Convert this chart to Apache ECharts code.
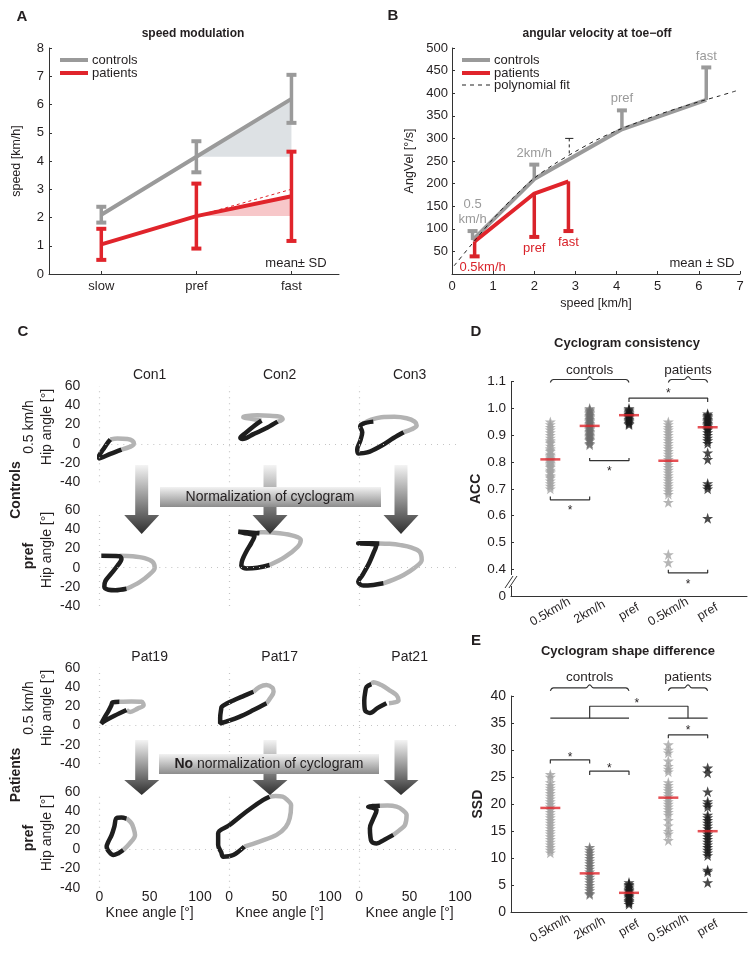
<!DOCTYPE html>
<html>
<head>
<meta charset="utf-8">
<script src="https://cdn.jsdelivr.net/npm/echarts@6/dist/echarts.min.js"></script>
<style>
html, body { margin: 0; padding: 0; background: #fff; }
#main { width: 756px; height: 953px; }
</style>
</head>
<body>
<div id="main"></div>
<script>
// ---------- panel A: speed modulation ----------
const speedCats = ['slow', 'pref', 'fast'];
const speedPos = [1, 2, 3];
const ctrlSpeedMean = [2.1, 4.15, 6.2];
const ctrlSpeedSD = [0.28, 0.55, 0.85];
const patSpeedMean = [1.05, 2.05, 2.75];
const patSpeedSD = [0.55, 1.15, 1.58];
const patSpeedTrend = [[2, 2.05], [3, 3.0]];

// ---------- panel B: angular velocity at toe-off ----------
const ctrlAngSpeed = [0.5, 2.0, 4.13, 6.18];
const ctrlAngVel = [75, 210, 320, 385];
const ctrlAngSD = [20, 32, 42, 72];
const ctrlAngLabels = ['0.5\nkm/h', '2km/h', 'pref', 'fast'];
const patAngSpeed = [0.55, 2.0, 2.83];
const patAngVel = [72, 178, 205];
const patAngSD = [33, 96, 110];
const patAngLabels = ['0.5km/h', 'pref', 'fast'];
const fitSpeed = [0.05, 0.5, 1, 1.5, 2, 2.5, 3, 3.5, 4, 4.5, 5, 5.5, 6, 6.5, 6.9];
const fitAngVel = [18, 68, 122, 170, 212, 244, 271, 296, 317, 335, 352, 367, 381, 394, 405];
const fitMark = [2.85, 300, 262];

// ---------- panel C: cyclograms [knee, hip] ----------
const con1SlowBlack = [[22,-6],[11,-10.5],[2,-14.5],[-1,-15.5],[0,-12],[5,-4],[9,2],[11,4.5]];
const con1SlowGray  = [[11,4.5],[18,5.5],[28,5],[33,3],[34.5,0],[31,-3],[22,-6]];
const con2SlowBlack = [[32,24],[24,18],[16,11],[11,6],[13,5],[24,10],[38,17],[48,23]];
const con2SlowGray  = [[48,23],[53,25.5],[51,28],[40,29],[28,29.5],[16,28.5],[14,27.5],[22,26],[32,24]];
const con3SlowBlack = [[14,23],[4,21],[1,18],[3,12],[1,3],[-2,-6],[-1,-10],[8,-9],[22,-2],[34,6],[44,12]];
const con3SlowGray  = [[44,12],[52,15],[57,19],[55,23],[47,26.5],[35,28],[22,27.5],[12,25],[4,21]];
const con1PrefBlack = [[2,12.5],[20,12],[22,9],[18,2],[12,-6],[6,-14],[5,-20],[9,-23],[16,-23.5],[27,-22]];
const con1PrefGray  = [[27,-22],[40,-15],[50,-7],[55,0],[53,6],[45,10],[33,12],[20,12.5]];
const con2PrefBlack = [[30,36],[18,37],[9,37.5],[14,36.5],[25,33],[22,26],[17,17],[13,8],[12,2],[17,-0.7],[28,0],[40,2.8]];
const con2PrefGray  = [[40,2.8],[55,11],[68,22],[71,29],[65,33],[50,36],[34,37],[28,37]];
const con3PrefBlack = [[20,25.4],[8,25.5],[-1,25.4],[10,25],[17,23.6],[14,15],[9,3],[3,-8],[-1,-14.6],[4,-18.7],[14,-18],[24,-16.3]];
const con3PrefGray  = [[24,-16.3],[34,-12.5],[44,-7.6],[55,0],[62,8],[60,16.7],[52,21],[41,23.6],[30,25],[20,25.4]];
const pat19SlowBlack = [[27,16],[15,10],[6,5],[2,2],[5,8],[9,15],[12,21],[13,24],[20,24.6]];
const pat19SlowGray  = [[20,24.6],[32,25],[42,24.6],[44,21],[38,17.5],[30.5,14],[27,16]];
const pat17SlowBlack = [[37,23],[24,16],[10,9],[-3,4],[-9,2],[-9,8],[-8,17],[-7.5,19.4],[4,26],[15,31],[24,35]];
const pat17SlowGray  = [[24,35],[30,40],[37,42],[43,39],[44,35],[40.4,28],[37,23]];
const pat21SlowBlack = [[27,23],[18,18],[10.6,13],[5.7,16],[5,26],[6,35],[7.3,40],[12,43]];
const pat21SlowGray  = [[12,43],[14,45],[22,42],[31,36],[37,31.5],[39,26],[35,24],[29.5,23]];
const pat19PrefBlack = [[27,32],[22,33],[17,32.3],[15,24],[12.3,15],[9,8],[7.3,2.7],[10,-3],[14,-6],[19,-4],[23.8,-0.7]];
const pat19PrefGray  = [[23.8,-0.7],[30,6],[35.5,15],[34,22],[32,27],[27,32.3]];
const pat17PrefBlack = [[40,54.8],[33.8,51.4],[22,43],[10.6,34],[0,25],[-11,16.7],[-11,4.5],[-8,-3],[-6,-7.7],[4,-6],[15,2.7]];
const pat17PrefGray  = [[15,2.7],[30,8],[47,15],[56,23],[60,32.3],[61.4,46],[57,52],[53,54.8],[46,55.5],[40,54.8]];
const pat21PrefBlack = [[20.5,45.4],[13,45],[8.9,44.4],[14,43],[17.2,41],[14,32],[10.6,22],[11,14],[12.3,8],[17.2,6],[25,10],[33.8,15]];
const pat21PrefGray  = [[33.8,15],[40,20],[45.4,25.3],[47,35.7],[43,41],[37,44.4],[28,45.5],[20.5,45.4]];
const cycTitlesCtrl = ['Con1', 'Con2', 'Con3'];
const cycTitlesPat = ['Pat19', 'Pat17', 'Pat21'];
const kneeTicks = [0, 50, 100];

// ---------- panels D / E ----------
const groupPos = [1, 2, 3, 4, 5];
const groupNames = ['0.5km/h', '2km/h', 'pref', '0.5km/h', 'pref'];
const accCtrlSlow = [0.95,0.94,0.93,0.92,0.91,0.90,0.89,0.88,0.875,0.87,0.86,0.85,0.845,0.84,0.83,0.825,0.82,0.815,0.81,0.805,0.80,0.795,0.79,0.785,0.78,0.77,0.765,0.76,0.75,0.745,0.74,0.73,0.72,0.71,0.70];
const accCtrl2 = [1.0,0.995,0.99,0.985,0.98,0.975,0.97,0.965,0.96,0.955,0.95,0.945,0.94,0.935,0.93,0.925,0.92,0.915,0.91,0.905,0.90,0.895,0.89,0.885,0.88,0.87,0.865];
const accCtrlPref = [1.0,0.995,0.99,0.985,0.98,0.978,0.975,0.972,0.97,0.965,0.96,0.955,0.95,0.945,0.94];
const accPatSlow = [0.95,0.94,0.93,0.92,0.91,0.90,0.89,0.88,0.87,0.86,0.85,0.84,0.83,0.82,0.81,0.80,0.79,0.78,0.77,0.76,0.75,0.74,0.73,0.72,0.71,0.70,0.69,0.68,0.65,0.455,0.425];
const accPatPref = [0.98,0.975,0.97,0.965,0.96,0.955,0.95,0.945,0.94,0.935,0.93,0.925,0.92,0.91,0.90,0.89,0.88,0.87,0.835,0.81,0.72,0.71,0.70,0.59];
const accMeans = [0.81, 0.935, 0.975, 0.805, 0.93];
const accBrackets = [
  [[3,1.024],[3,1.039],[5,1.039],[5,1.024]],
  [[1,0.671],[1,0.659],[2,0.659],[2,0.671]],
  [[2,0.815],[2,0.805],[3,0.805],[3,0.815]],
  [[4,0.398],[4,0.386],[5,0.386],[5,0.398]]
];
const accStars = [[4,1.065],[1.5,0.628],[2.5,0.774],[4.5,0.353]];

const ssdCtrlSlow = [25.5,25,24,23.5,23,22.5,22,21.5,21,20.5,20,19.5,19,18.5,18,17.5,17,16.5,16,15.5,15,14.5,14,13.5,13,12.5,12,11.5,11];
const ssdCtrl2 = [12,11.5,11,10.5,10,9.5,9,8.5,8,7.5,7,6.5,6,5.5,5,4.5,4,3.5,3.3];
const ssdCtrlPref = [5.5,5.2,5,4.7,4.5,4.2,4,3.8,3.5,3.2,3,2.8,2.5,2.2,2,1.8,1.5];
const ssdPatSlow = [31,30,29.5,28,27,26.5,26,24,23.5,23,22.5,22,21.5,21,20.5,20,19.5,19,18.5,18,17,16,15,14.5,13.3];
const ssdPatPref = [26.7,25.8,22.3,20.5,20,19.5,18,17.5,17,16.5,16,15.5,15,14.5,14,13.5,13,12.5,12,11.5,11,10.5,7.8,7.5,5.5];
const ssdMeans = [19.3, 7.2, 3.6, 21.2, 15.0];
const ssdBrackets = [
  [[1,35.9],[3,35.9]],
  [[4,35.9],[5,35.9]],
  [[2,35.9],[2,38.1],[4.5,38.1],[4.5,35.9]],
  [[4,32.2],[4,32.8],[5,32.8],[5,32.2]],
  [[1,27.5],[1,28.2],[2,28.2],[2,27.5]],
  [[2,25.4],[2,26.1],[3,26.1],[3,25.4]]
];
const ssdStars = [[3.2,39.2],[4.5,34.1],[1.5,29.1],[2.5,27.1]];
const braceSpans = [[1, 3], [4, 5]];
const braceNames = ['controls', 'patients'];

const FONT = '"Liberation Sans", Arial, sans-serif';
const INK = '#231f20';
const GRAY = '#9a9a9a';
const RED = '#e0242b';
const STAR = 'path://M50 0 L61.8 35.1 L98.9 35.1 L68.9 56.8 L80.3 91.9 L50 70.2 L19.7 91.9 L31.1 56.8 L1.1 35.1 L38.2 35.1 Z';

const chart = echarts.init(document.getElementById('main'), null, { renderer: 'canvas' });

function txt(x, y, text, size, opts) {
  return Object.assign({
    type: 'text', x: x, y: y, silent: true,
    style: Object.assign({ text: text, fontSize: size, fontFamily: FONT, fill: INK, align: 'center', verticalAlign: 'middle' }, (opts && opts.style) || {})
  }, opts && opts.rotation ? { rotation: opts.rotation } : {});
}

function twoSidedBars(color) {
  return function (params, api) {
    const x = api.value(0), m = api.value(1), sd = api.value(2);
    const hi = api.coord([x, m + sd]), lo = api.coord([x, m - sd]);
    return { type: 'group', children: [
      { type: 'line', shape: { x1: hi[0], y1: hi[1], x2: lo[0], y2: lo[1] }, style: { stroke: color, lineWidth: 3.5 } },
      { type: 'line', shape: { x1: hi[0] - 5, y1: hi[1], x2: hi[0] + 5, y2: hi[1] }, style: { stroke: color, lineWidth: 4 } },
      { type: 'line', shape: { x1: lo[0] - 5, y1: lo[1], x2: lo[0] + 5, y2: lo[1] }, style: { stroke: color, lineWidth: 4 } }
    ] };
  };
}

function oneSidedBars(color, dir, labels) {
  return function (params, api) {
    const i = params.dataIndex;
    const x = api.value(0), m = api.value(1), sd = api.value(2);
    const p0 = api.coord([x, m]), p1 = api.coord([x, m + dir * sd]);
    const dx = (dir < 0 && i === 0) ? 8 : 0;
    return { type: 'group', children: [
      { type: 'line', shape: { x1: p0[0], y1: p0[1], x2: p1[0], y2: p1[1] }, style: { stroke: color, lineWidth: 3.5 } },
      { type: 'line', shape: { x1: p1[0] - 5, y1: p1[1], x2: p1[0] + 5, y2: p1[1] }, style: { stroke: color, lineWidth: 4 } },
      { type: 'text', x: p1[0] + dx, y: dir > 0 ? p1[1] - 4 : p1[1] + 4,
        style: { text: labels[i], fill: color, fontSize: 13, fontFamily: FONT, lineHeight: 15,
                 align: 'center', verticalAlign: dir > 0 ? 'bottom' : 'top' } }
    ] };
  };
}

function polygonSeries(xi, pts, fill) {
  return { type: 'custom', xAxisIndex: xi, yAxisIndex: xi, data: [[pts[0][0], pts[0][1]]], z: 1, silent: true,
    renderItem: function (p, api) {
      return { type: 'polygon', shape: { points: pts.map(function (q) { return api.coord(q); }) }, style: { fill: fill } };
    } };
}

function textSeries(xi, pts, texts, size, dy) {
  return { type: 'custom', xAxisIndex: xi, yAxisIndex: xi, clip: false, silent: true, z: 5,
    data: pts,
    renderItem: function (p, api) {
      const c = api.coord([api.value(0), api.value(1)]);
      return { type: 'text', x: c[0], y: c[1] + dy,
        style: { text: texts[p.dataIndex], fontSize: size, fontFamily: FONT, fill: INK, align: 'center', verticalAlign: 'middle' } };
    } };
}

function pathSeries(xi, pts, color, width, extra) {
  return Object.assign({ type: 'line', xAxisIndex: xi, yAxisIndex: xi, data: pts, showSymbol: false, symbol: 'none',
    clip: false, silent: true, lineStyle: { color: color, width: width }, z: 4 }, extra || {});
}

function brace(a, b, y, h) {
  const m = (a + b) / 2;
  return [[a, y - h], [a + 0.08, y], [m - 0.1, y], [m, y + h], [m + 0.1, y], [b - 0.08, y], [b, y - h]];
}

const grids = [], xAxes = [], yAxes = [], series = [];
const axisBase = {
  axisLine: { show: true, lineStyle: { color: '#333', width: 1 } },
  axisTick: { show: true, inside: true, length: 3, lineStyle: { color: '#333' } },
  splitLine: { show: false },
  axisLabel: { color: INK, fontSize: 13, fontFamily: FONT }
};
function ax(o) { return echarts.util.merge(echarts.util.clone(axisBase), o, true); }

// ----- A -----
grids.push({ left: 49, top: 48, width: 290, height: 226 });
xAxes.push(ax({ gridIndex: 0, type: 'value', min: 0.45, max: 3.5,
  axisTick: { customValues: speedPos },
  axisLabel: { customValues: speedPos, margin: 6, formatter: function (v) { return speedCats[Math.round(v) - 1]; } } }));
yAxes.push(ax({ gridIndex: 0, type: 'value', min: 0, max: 8, interval: 1,
  axisLabel: { margin: 5 },
  name: 'speed [km/h]', nameLocation: 'middle', nameGap: 26,
  nameTextStyle: { fontSize: 12.5, fontFamily: FONT, color: INK } }));

series.push(polygonSeries(0, [[2, ctrlSpeedMean[1]], [3, ctrlSpeedMean[2]], [3, ctrlSpeedMean[1]]], '#dde1e4'));
series.push(polygonSeries(0, [[2, patSpeedMean[1]], [3, patSpeedMean[2]], [3, patSpeedMean[1]]], '#f7c7c9'));
series.push(pathSeries(0, patSpeedTrend, RED, 1, { lineStyle: { color: RED, width: 1, type: [3, 3] }, z: 3 }));
series.push(pathSeries(0, speedPos.map(function (x, i) { return [x, ctrlSpeedMean[i]]; }), GRAY, 4));
series.push(pathSeries(0, speedPos.map(function (x, i) { return [x, patSpeedMean[i]]; }), RED, 4));
series.push({ type: 'custom', xAxisIndex: 0, yAxisIndex: 0, z: 5, silent: true,
  data: speedPos.map(function (x, i) { return [x, ctrlSpeedMean[i], ctrlSpeedSD[i]]; }), renderItem: twoSidedBars(GRAY) });
series.push({ type: 'custom', xAxisIndex: 0, yAxisIndex: 0, z: 5, silent: true,
  data: speedPos.map(function (x, i) { return [x, patSpeedMean[i], patSpeedSD[i]]; }), renderItem: twoSidedBars(RED) });

// ----- B -----
grids.push({ left: 452, top: 48, width: 288, height: 226 });
xAxes.push(ax({ gridIndex: 1, type: 'value', min: 0, max: 7, interval: 1,
  axisLabel: { margin: 6 },
  name: 'speed [km/h]', nameLocation: 'middle', nameGap: 23,
  nameTextStyle: { fontSize: 12.5, fontFamily: FONT, color: INK } }));
yAxes.push(ax({ gridIndex: 1, type: 'value', min: 0, max: 500, interval: 50,
  axisLabel: { margin: 4, formatter: function (v) { return v === 0 ? '' : v; } },
  name: 'AngVel [°/s]', nameLocation: 'middle', nameGap: 36,
  nameTextStyle: { fontSize: 12.5, fontFamily: FONT, color: INK } }));

series.push(pathSeries(1, ctrlAngSpeed.map(function (x, i) { return [x, ctrlAngVel[i]]; }), GRAY, 4));
series.push(pathSeries(1, patAngSpeed.map(function (x, i) { return [x, patAngVel[i]]; }), RED, 4));
series.push(pathSeries(1, fitSpeed.map(function (x, i) { return [x, fitAngVel[i]]; }), '#222', 1,
  { smooth: 0.3, lineStyle: { color: '#222', width: 1, type: [4, 4] }, z: 6 }));
series.push(pathSeries(1, [[fitMark[0] - 0.1, fitMark[1]], [fitMark[0] + 0.1, fitMark[1]]], '#222', 1));
series.push(pathSeries(1, [[fitMark[0], fitMark[1]], [fitMark[0], fitMark[2]]], '#222', 1,
  { lineStyle: { color: '#222', width: 1, type: [3, 3] } }));
series.push({ type: 'custom', xAxisIndex: 1, yAxisIndex: 1, z: 5, silent: true, clip: false,
  data: ctrlAngSpeed.map(function (x, i) { return [x, ctrlAngVel[i], ctrlAngSD[i]]; }),
  renderItem: oneSidedBars(GRAY, 1, ctrlAngLabels) });
series.push({ type: 'custom', xAxisIndex: 1, yAxisIndex: 1, z: 5, silent: true, clip: false,
  data: patAngSpeed.map(function (x, i) { return [x, patAngVel[i], patAngSD[i]]; }),
  renderItem: oneSidedBars('#d9232a', -1, patAngLabels) });

// ----- C -----
const rowTops = [386, 510.3, 667.7, 791.7];
const rowH = [96.3, 95.7, 96.3, 96];
const colLeft = [99.3, 199, 329];
const colW = [100.7, 131, 131];
const colMin = [0, -30, -30];
const cycBlack = [
  [con1SlowBlack, con2SlowBlack, con3SlowBlack],
  [con1PrefBlack, con2PrefBlack, con3PrefBlack],
  [pat19SlowBlack, pat17SlowBlack, pat21SlowBlack],
  [pat19PrefBlack, pat17PrefBlack, pat21PrefBlack]
];
const cycGray = [
  [con1SlowGray, con2SlowGray, con3SlowGray],
  [con1PrefGray, con2PrefGray, con3PrefGray],
  [pat19SlowGray, pat17SlowGray, pat21SlowGray],
  [pat19PrefGray, pat17PrefGray, pat21PrefGray]
];
for (let r = 0; r < 4; r++) {
  for (let c = 0; c < 3; c++) {
    const gi = grids.length;
    grids.push({ left: colLeft[c], top: rowTops[r], width: colW[c], height: rowH[r] });
    xAxes.push({ gridIndex: gi, type: 'value', min: colMin[c], max: 100,
      axisLine: { show: false }, axisTick: { show: false }, splitLine: { show: false },
      axisLabel: { show: r === 3, customValues: kneeTicks, fontSize: 14, fontFamily: FONT, color: INK, margin: 2 } });
    yAxes.push({ gridIndex: gi, type: 'value', min: -40, max: 60, interval: 20,
      axisLine: { show: false }, axisTick: { show: false }, splitLine: { show: false },
      axisLabel: { show: c === 0, fontSize: 14, fontFamily: FONT, color: INK, margin: 19 } });
    series.push({ type: 'line', xAxisIndex: gi, yAxisIndex: gi, data: cycGray[r][c], smooth: 0.35,
      showSymbol: false, symbol: 'none', silent: true, z: 3,
      lineStyle: { color: '#b3b3b3', width: 4.5 },
      markLine: { silent: true, symbol: 'none', label: { show: false }, animation: false,
        lineStyle: { color: '#c4c4c4', type: [1, 5], width: 1.2 },
        data: [{ xAxis: 0 }, { yAxis: 0 }] } });
    series.push({ type: 'line', xAxisIndex: gi, yAxisIndex: gi, data: cycBlack[r][c], smooth: 0.35,
      showSymbol: false, symbol: 'none', silent: true, z: 4,
      lineStyle: { color: '#1e1e1e', width: 4.5 } });
  }
}

// ----- D and E -----
function scatterPanel(gi, top, height, min, max, interval, fmt, groups, means, brackets, stars, braceY, braceH, braceTextY, starDy, nameText, labelSize) {
  grids.push({ left: 511, top: top, width: 236, height: height });
  xAxes.push(ax({ gridIndex: gi, type: 'value', min: 0, max: 6,
    axisTick: { show: false },
    axisLabel: { customValues: groupPos, rotate: 30, align: 'center', verticalAlign: 'middle', margin: 16, fontSize: 12.5,
      formatter: function (v) { return groupNames[Math.round(v) - 1]; } } }));
  yAxes.push(ax({ gridIndex: gi, type: 'value', min: min, max: max, interval: interval,
    axisLabel: { margin: 5, fontSize: labelSize, formatter: fmt },
    name: nameText, nameLocation: 'middle', nameGap: 26,
    nameTextStyle: { fontSize: 14, fontWeight: 'bold', fontFamily: FONT, color: INK } }));
  const cols = ['#a3a3a3', '#6e6e6e', '#1c1c1c', '#a3a3a3', '#1c1c1c'];
  groups.forEach(function (vals, k) {
    series.push({ type: 'scatter', xAxisIndex: gi, yAxisIndex: gi, silent: true, z: 3,
      symbol: STAR, symbolSize: 11, itemStyle: { color: cols[k] },
      data: vals.map(function (v) { return [groupPos[k], v]; }) });
  });
  series.push({ type: 'scatter', xAxisIndex: gi, yAxisIndex: gi, silent: true, z: 6,
    symbol: 'rect', symbolSize: [20, 2.5], itemStyle: { color: RED },
    data: means.map(function (v, k) { return [groupPos[k], v]; }) });
  brackets.forEach(function (b) { series.push(pathSeries(gi, b, '#333', 1.2)); });
  series.push(textSeries(gi, stars, stars.map(function () { return '*'; }), 12, starDy));
  braceSpans.forEach(function (s) { series.push(pathSeries(gi, brace(s[0], s[1], braceY, braceH), '#333', 1.1, { smooth: 0.5 })); });
  series.push(textSeries(gi, braceSpans.map(function (s) { return [(s[0] + s[1]) / 2, braceTextY]; }), braceNames, 13.5, 0));
}

scatterPanel(grids.length, 381.7, 214.3, 0.3, 1.1, 0.1,
  function (v) { return Math.abs(v - 0.3) < 1e-6 ? '0' : v.toFixed(1); },
  [accCtrlSlow, accCtrl2, accCtrlPref, accPatSlow, accPatPref], accMeans, accBrackets, accStars,
  1.108, 0.011, 1.144, 3, 'ACC', 13.5);
scatterPanel(grids.length, 696, 216.3, 0, 40, 5,
  function (v) { return v; },
  [ssdCtrlSlow, ssdCtrl2, ssdCtrlPref, ssdPatSlow, ssdPatPref], ssdMeans, ssdBrackets, ssdStars,
  41.5, 0.55, 43.4, 3, 'SSD', 14);

// ----- decorations -----
function arrow(cx, yt, yh, yp) {
  return { type: 'polygon', silent: true, z: 10,
    shape: { points: [[cx - 6.5, yt], [cx + 6.5, yt], [cx + 6.5, yh], [cx + 17.5, yh], [cx, yp], [cx - 17.5, yh], [cx - 6.5, yh]] },
    style: { fill: { type: 'linear', x: 0, y: 0, x2: 0, y2: 1,
      colorStops: [{ offset: 0, color: '#f4f4f4' }, { offset: 0.7, color: '#6a6a6a' }, { offset: 1, color: '#2e2e2e' }] } } };
}
function banner(x, y, w, h) {
  return { type: 'rect', silent: true, z: 11, shape: { x: x, y: y, width: w, height: h },
    style: { fill: { type: 'linear', x: 0, y: 0, x2: 0, y2: 1,
      colorStops: [{ offset: 0, color: '#f2f2f2' }, { offset: 1, color: '#8c8c8c' }] } } };
}
const R90 = Math.PI / 2;
const graphic = [
  txt(22, 17, 'A', 15, { style: { fontWeight: 'bold' } }),
  txt(393, 16, 'B', 15, { style: { fontWeight: 'bold' } }),
  txt(23, 332, 'C', 15, { style: { fontWeight: 'bold' } }),
  txt(476, 332, 'D', 15, { style: { fontWeight: 'bold' } }),
  txt(476, 641, 'E', 15, { style: { fontWeight: 'bold' } }),
  txt(193, 34, 'speed modulation', 12, { style: { fontWeight: 'bold' } }),
  txt(597, 34, 'angular velocity at toe\u2212off', 12, { style: { fontWeight: 'bold' } }),
  txt(627, 343, 'Cyclogram consistency', 13, { style: { fontWeight: 'bold' } }),
  txt(628, 651, 'Cyclogram shape difference', 13, { style: { fontWeight: 'bold' } }),
  // legends
  { type: 'line', silent: true, shape: { x1: 60, y1: 60, x2: 88, y2: 60 }, style: { stroke: GRAY, lineWidth: 4 } },
  { type: 'line', silent: true, shape: { x1: 60, y1: 73, x2: 88, y2: 73 }, style: { stroke: RED, lineWidth: 4 } },
  txt(92, 60, 'controls', 13, { style: { align: 'left' } }),
  txt(92, 73, 'patients', 13, { style: { align: 'left' } }),
  txt(296, 263, 'mean\u00b1 SD', 13),
  { type: 'line', silent: true, shape: { x1: 462, y1: 60, x2: 490, y2: 60 }, style: { stroke: GRAY, lineWidth: 4 } },
  { type: 'line', silent: true, shape: { x1: 462, y1: 73, x2: 490, y2: 73 }, style: { stroke: RED, lineWidth: 4 } },
  { type: 'line', silent: true, shape: { x1: 462, y1: 85, x2: 490, y2: 85 }, style: { stroke: '#222', lineWidth: 1, lineDash: [4, 4] } },
  txt(494, 60, 'controls', 13, { style: { align: 'left' } }),
  txt(494, 73, 'patients', 13, { style: { align: 'left' } }),
  txt(494, 85, 'polynomial fit', 13, { style: { align: 'left' } }),
  txt(702, 263, 'mean \u00b1 SD', 13),
  // panel C labels
  txt(16, 490, 'Controls', 14, { rotation: R90, style: { fontWeight: 'bold' } }),
  txt(29, 427, '0.5 km/h', 14, { rotation: R90 }),
  txt(47, 427, 'Hip angle [\u00b0]', 14, { rotation: R90 }),
  txt(29, 556, 'pref', 14, { rotation: R90, style: { fontWeight: 'bold' } }),
  txt(47, 550, 'Hip angle [\u00b0]', 14, { rotation: R90 }),
  txt(16, 775, 'Patients', 14, { rotation: R90, style: { fontWeight: 'bold' } }),
  txt(29, 708, '0.5 km/h', 14, { rotation: R90 }),
  txt(47, 708, 'Hip angle [\u00b0]', 14, { rotation: R90 }),
  txt(29, 838, 'pref', 14, { rotation: R90, style: { fontWeight: 'bold' } }),
  txt(47, 833, 'Hip angle [\u00b0]', 14, { rotation: R90 }),
  // D axis break
  { type: 'rect', silent: true, z: 20, shape: { x: 508, y: 575, width: 6, height: 11 }, style: { fill: '#fff' } },
  { type: 'line', silent: true, z: 21, shape: { x1: 505, y1: 588, x2: 513, y2: 576 }, style: { stroke: '#333', lineWidth: 1 } },
  { type: 'line', silent: true, z: 21, shape: { x1: 509, y1: 588, x2: 517, y2: 576 }, style: { stroke: '#333', lineWidth: 1 } },
  // arrows and banners
  arrow(141.7, 465, 515, 534), arrow(270, 465, 515, 534), arrow(401, 465, 515, 534),
  banner(160, 487, 221, 20),
  txt(270, 497.5, 'Normalization of cyclogram', 14, { style: {} }),
  arrow(141.7, 740, 780, 795), arrow(270, 740, 780, 795), arrow(401, 740, 780, 795),
  banner(159, 754, 220, 20),
  { type: 'text', silent: true, z: 12, x: 269, y: 764.5,
    style: { text: '{b|No} normalization of cyclogram', fontSize: 14, fontFamily: FONT, fill: INK,
      align: 'center', verticalAlign: 'middle', rich: { b: { fontWeight: 'bold', fontSize: 14, fontFamily: FONT, fill: INK } } } }
];
graphic.forEach(function (g) { if (g.type === 'text' && g.z === undefined) g.z = 12; });
for (let c = 0; c < 3; c++) {
  const cx = colLeft[0] + 50 * 1.007 + c * 130;
  graphic.push(txt(cx, 375, cycTitlesCtrl[c], 14));
  graphic.push(txt(cx, 656.7, cycTitlesPat[c], 14));
  graphic.push(txt(cx, 912.7, 'Knee angle [\u00b0]', 14));
}

chart.setOption({
  animation: false,
  textStyle: { fontFamily: FONT },
  grid: grids,
  xAxis: xAxes,
  yAxis: yAxes,
  series: series,
  graphic: graphic
});
</script>
</body>
</html>
